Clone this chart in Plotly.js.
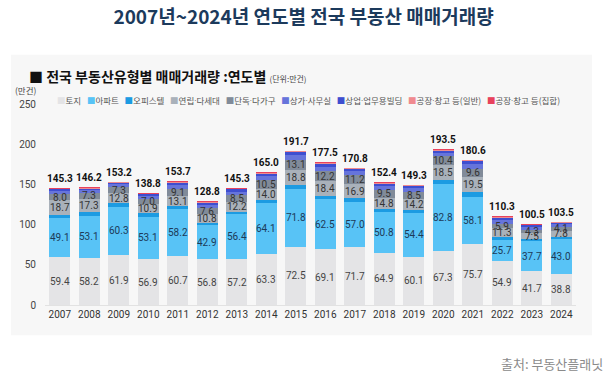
<!DOCTYPE html>
<html>
<head>
<meta charset="utf-8">
<script src="https://cdn.plot.ly/plotly-3.0.1.min.js"></script>
<style>
html,body{margin:0;padding:0;background:#fff;}
#chart{width:616px;height:385px;}
</style>
</head>
<body>
<div id="chart"></div>
<script>
// ---- data (만건) ----
const years = ["2007","2008","2009","2010","2011","2012","2013","2014","2015","2016","2017","2018","2019","2020","2021","2022","2023","2024"];
const land        = [59.4,58.2,61.9,56.9,60.7,56.8,57.2,63.3,72.5,69.1,71.7,64.9,60.1,67.3,75.7,54.9,41.7,38.8];
const apartment   = [49.1,53.1,60.3,53.1,58.2,42.9,56.4,64.1,71.8,62.5,57.0,50.8,54.4,82.8,58.1,25.7,37.7,43.0];
const officetel   = [3.0,3.8,4.2,4.2,3.7,2.4,2.4,3.1,4.6,4.2,4.5,3.2,3.4,6.0,6.4,3.4,2.2,3.0];
const rowhouse    = [18.7,17.3,12.8,10.9,13.1,10.8,12.2,14.0,18.8,18.4,16.9,14.8,14.2,18.5,19.5,11.3,7.5,7.8];
const detached    = [8.0,7.3,7.3,7.0,9.1,7.6,8.5,10.5,13.1,12.2,11.2,9.5,8.5,10.4,9.6,5.9,4.3,4.1];
const shopOffice  = [3.6,3.3,3.4,3.4,4.6,4.3,4.4,5.2,5.7,5.8,4.9,4.8,4.5,4.3,5.9,4.7,3.6,3.5];
const commercial  = [2.1,1.9,2.0,2.0,2.7,2.5,2.6,3.1,3.4,3.4,2.9,2.8,2.6,2.6,3.5,2.8,2.2,2.0];
const factoryGen  = [0.9,0.8,0.8,0.8,1.0,0.9,1.0,1.1,1.1,1.2,1.1,1.0,1.0,1.0,1.2,1.0,0.8,0.8];
const factoryCol  = [0.5,0.5,0.5,0.5,0.6,0.6,0.6,0.6,0.7,0.7,0.6,0.6,0.6,0.6,0.7,0.6,0.5,0.5];
const totals      = [145.3,146.2,153.2,138.8,153.7,128.8,145.3,165.0,191.7,177.5,170.8,152.4,149.3,193.5,180.6,110.3,100.5,103.5];
const seriesNames = ["토지","아파트","오피스텔","연립·다세대","단독·다가구","상가·사무실","상업·업무용빌딩","공장·창고 등(일반)","공장·창고 등(집합)"];
const yTicks = [0,50,100,150,200,250];

// ---- style ----
const FONT = "Noto Sans CJK KR, Noto Sans, sans-serif";
const NUMFONT = "Roboto, Noto Sans, sans-serif";
const colors = ["#e4e4e6","#58c3f6","#1c9be2","#a9b1ba","#818b99","#6674db","#3e4ed0","#f08a8f","#e8425c"];
const series = [land,apartment,officetel,rowhouse,detached,shopOffice,commercial,factoryGen,factoryCol];
const labelled = {0:"#444444",1:"#1d3a58",3:"#333333",4:"#333333"};

const traces = series.map((vals,i)=>({
  type:"bar", x:years, y:vals, name:seriesNames[i],
  marker:{color:colors[i], line:{width:0}},
  hoverinfo:"skip", showlegend:false
}));

const annotations = [];
// segment labels (x given as category index)
const cum = years.map(()=>0);
series.forEach((vals,i)=>{
  vals.forEach((v,j)=>{
    if (labelled[i] !== undefined) {
      annotations.push({x:j, y:cum[j]+v/2, xref:"x", yref:"y", text:v.toFixed(1),
        showarrow:false, font:{family:NUMFONT,size:10,color:labelled[i]}});
    }
    cum[j]+=v;
  });
});
// totals
totals.forEach((t,j)=>{
  annotations.push({x:j, y:t, xref:"x", yref:"y", text:"<b>"+t.toFixed(1)+"</b>",
    showarrow:false, yanchor:"bottom", yshift:2, font:{family:NUMFONT,size:10,color:"#111"}});
});
// legend line
const legendText = seriesNames.map((n,i)=>'<span style="color:'+colors[i]+'">■</span>'+
  n.replace(/·/g,'<span style="font-family:Roboto">·</span>')).join("&nbsp;&nbsp;&nbsp;");
annotations.push({xref:"paper", yref:"paper", x:0.019, y:1.02, xanchor:"left", yanchor:"middle",
  text:legendText, showarrow:false, font:{family:FONT,size:8.5,color:"#555"}});
// unit
annotations.push({xref:"paper", yref:"paper", x:-0.036, y:1.068, xanchor:"center", yanchor:"middle",
  text:"(만건)", showarrow:false, font:{family:FONT,size:8.5,color:"#444"}});
// subtitle
annotations.push({xref:"paper", yref:"paper", x:-0.034, y:1.139, xanchor:"left", yanchor:"middle",
  text:'<b>■ 전국 부동산유형별 매매거래량 :연도별</b> <span style="font-size:8px;color:#444">(단위:만건)</span>',
  showarrow:false, font:{family:FONT,size:14,color:"#111"}});
// source
annotations.push({xref:"paper", yref:"paper", x:1.055, y:-0.29, xanchor:"right", yanchor:"middle",
  text:"출처: 부동산플래닛", showarrow:false, font:{family:FONT,size:13,color:"#8a8a8a"}});

const layout = {
  width:616, height:385,
  margin:{l:45, r:40, t:104, b:80},
  paper_bgcolor:"#ffffff", plot_bgcolor:"rgba(0,0,0,0)",
  barmode:"stack", bargap:0.3,
  font:{family:FONT, color:"#333"},
  title:{text:"<b>2007년~2024년 연도별 전국 부동산 매매거래량</b>", x:0.487, xanchor:"center",
    xref:"paper", y:0.956, yref:"container", yanchor:"middle",
    font:{family:FONT,size:19,color:"#1c3a5c"}},
  xaxis:{type:"category", range:[-0.5, years.length-0.5], autorange:false, showgrid:false, zeroline:false,
    showline:true, linecolor:"#e2e2e2", ticks:"", tickfont:{family:NUMFONT,size:10,color:"#333"}},
  yaxis:{range:[0,250], autorange:false, tickvals:yTicks, showgrid:false, zeroline:false, showline:false,
    ticks:"", ticklabelstandoff:8, tickfont:{family:NUMFONT,size:10,color:"#444"}},
  shapes:[{type:"rect", xref:"paper", yref:"paper", x0:-0.064, x1:1.03, y0:-0.15, y1:1.245,
    fillcolor:"#f7f7f7", line:{width:0}, layer:"below"}],
  annotations:annotations,
  showlegend:false
};

Plotly.newPlot("chart", traces, layout, {displayModeBar:false, staticPlot:true});
</script>
</body>
</html>
